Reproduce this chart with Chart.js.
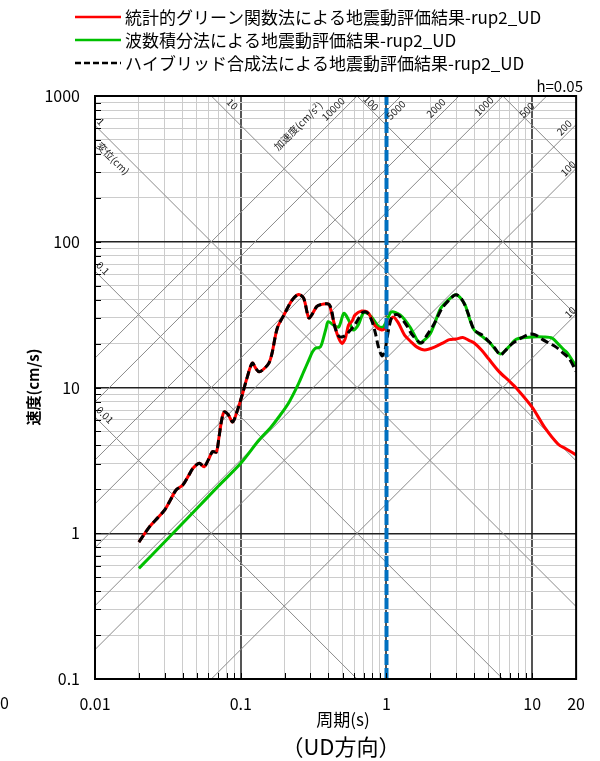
<!DOCTYPE html>
<html>
<head>
<meta charset="utf-8">
<script src="https://cdn.jsdelivr.net/npm/chart.js@4.4.1/dist/chart.umd.min.js"></script>
<style>
html, body { margin: 0; padding: 0; background: #fff; }
canvas { display: block; }
</style>
</head>
<body>
<canvas id="c" width="600" height="761"></canvas>
<script>
// periods (s) and pseudo velocity response (cm/s)
var redT = [0.02, 0.022, 0.0237, 0.027, 0.03, 0.033, 0.036, 0.04, 0.044, 0.047, 0.052, 0.056, 0.06, 0.064, 0.068, 0.071, 0.074, 0.077, 0.082, 0.088,
    0.095, 0.103, 0.11, 0.12, 0.127, 0.134, 0.145, 0.156, 0.164, 0.178, 0.198, 0.225, 0.25, 0.27, 0.293, 0.31, 0.333, 0.36, 0.39, 0.405,
    0.42, 0.457, 0.494, 0.52, 0.549, 0.58, 0.609, 0.676, 0.75, 0.836, 0.927, 0.98, 1.03, 1.11, 1.2, 1.33, 1.48, 1.61, 1.83, 2.15,
    2.5, 2.7, 3.0, 3.34, 3.7, 4.0, 4.5, 5.0, 5.9, 7.0, 7.8, 10, 12.2, 15, 17, 20];
var redSv = [0.87, 1.0, 1.11, 1.28, 1.44, 1.7, 1.98, 2.14, 2.5, 2.79, 3.02, 2.86, 3.2, 3.63, 3.6, 4.6, 6.0, 6.8, 6.5, 5.8,
    7.0, 9.1, 11.5, 14.7, 13.5, 12.8, 13.5, 14.7, 17.2, 25.5, 31.5, 39.8, 43.5, 41, 30, 32, 36, 37.2, 37.5, 37,
    32.3, 23.5, 20.1, 21.5, 26.8, 28.5, 31.5, 33.5, 32.5, 26.5, 24.8, 25.5, 27.5, 30.5, 28, 22.9, 20.5, 19.0, 18.1, 19.0,
    20.5, 21.3, 21.5, 22.0, 21, 20.2, 18, 15.8, 12.9, 11.0, 9.87, 7.3, 5.3, 4.1, 3.8, 3.45];

var greenT = [0.02, 0.03, 0.05, 0.07, 0.1, 0.1335, 0.16, 0.183, 0.214, 0.25, 0.27, 0.293, 0.31, 0.325, 0.352, 0.37, 0.385, 0.398, 0.4335, 0.47,
    0.51, 0.55, 0.59, 0.64, 0.69, 0.73, 0.79, 0.88, 0.95, 1.03, 1.08, 1.24, 1.45, 1.67, 1.75, 2.0, 2.35, 2.6, 3.0, 3.43,
    3.7, 4.0, 4.5, 5.05, 6.05, 6.9, 7.8, 10, 12, 13.7, 15, 16.5, 17.4, 20];
var greenSv = [0.574, 0.87, 1.48, 2.1, 3.02, 4.36, 5.3, 6.3, 7.9, 10.7, 12.8, 15.4, 17.5, 18.6, 19.0, 22, 25.5, 28.3, 26.8, 26.0,
    32.3, 29, 24.8, 26.8, 32.3, 32.5, 30.5, 26.3, 26.0, 30.5, 33, 31.5, 26, 20.2, 20.5, 23.5, 34.8, 39, 43.3, 37.5,
    30, 24.8, 22.5, 20.6, 17, 19.0, 21.5, 22.2, 22.2, 21.8, 20, 18.1, 17.3, 14.0];

var blackT = [0.02, 0.022, 0.0237, 0.027, 0.03, 0.033, 0.036, 0.04, 0.044, 0.047, 0.052, 0.056, 0.06, 0.064, 0.068, 0.071, 0.074, 0.077, 0.082, 0.088,
    0.095, 0.103, 0.11, 0.12, 0.127, 0.134, 0.145, 0.156, 0.164, 0.178, 0.198, 0.225, 0.25, 0.27, 0.293, 0.31, 0.333, 0.36, 0.39, 0.405,
    0.42, 0.44, 0.47, 0.5, 0.53, 0.56, 0.6, 0.64, 0.68, 0.72, 0.76, 0.80, 0.84, 0.88, 0.93, 0.97, 1.0, 1.05, 1.1, 1.2,
    1.37, 1.5, 1.73, 1.9, 2.1, 2.4, 2.7, 3.0, 3.3, 3.6, 4.0, 4.5, 5.05, 5.5, 6.05, 6.5, 7.0, 7.6, 8.5, 9.5,
    10.5, 11.8, 13.0, 14.5, 16, 17.9, 20];
var blackSv = [0.87, 1.0, 1.11, 1.28, 1.44, 1.7, 1.98, 2.14, 2.5, 2.79, 3.02, 2.86, 3.2, 3.63, 3.6, 4.6, 6.0, 6.8, 6.5, 5.8,
    7.0, 9.1, 11.5, 14.7, 13.5, 12.8, 13.5, 14.7, 17.2, 25.5, 31.5, 39.8, 43.5, 41, 30, 32, 36, 37.2, 37.5, 37,
    34, 26.5, 22.5, 22.3, 23, 24.5, 26.5, 29.5, 32.5, 33, 31.5, 28, 23.5, 19, 16.5, 17.5, 20.6, 27, 31, 31.5,
    26.8, 23, 20.2, 23, 26.8, 34.8, 40, 43.3, 40, 33, 24.8, 23, 20.6, 18.8, 16.7, 17.8, 19.3, 20.6, 22, 23.2,
    23, 21.3, 20.2, 19.0, 17.5, 15.8, 12.9];

// tripartite guide lines
var dispValues = [0.01, 0.1, 1, 10, 100, 1000];               // displacement (cm)
var accValues = [10, 100, 200, 500, 1000, 2000, 5000, 10000];  // acceleration (cm/s2)
var markerPeriod = 1;

var xMin = 0.01, xMax = 20, yMin = 0.1, yMax = 1000;
var xTickLabels = [0.01, 0.1, 1, 10, 20];
var yTickLabels = [0.1, 1, 10, 100, 1000];

var legendRows = [
    { text: '統計的グリーン関数法による地震動評価結果-rup2_UD', color: '#ff0000', dash: [] },
    { text: '波数積分法による地震動評価結果-rup2_UD', color: '#00c000', dash: [] },
    { text: 'ハイブリッド合成法による地震動評価結果-rup2_UD', color: '#000000', dash: [6, 3] }
];

var JP = '"Noto Sans CJK JP", "Noto Sans", sans-serif';

function pairs(ts, vs) {
    return ts.map(function (t, i) { return { x: t, y: vs[i] }; });
}
function dispAt(d, T) { return 2 * Math.PI * d / T; }
function accAt(a, T) { return a * T / (2 * Math.PI); }

function logTicks(lo, hi) {
    var out = [];
    for (var e = Math.floor(Math.log10(lo)); e <= Math.ceil(Math.log10(hi)); e++) {
        for (var m = 1; m <= 9; m++) {
            var v = Number((m * Math.pow(10, e)).toPrecision(3));
            if (v >= lo - 1e-12 && v <= hi + 1e-9) out.push(v);
        }
    }
    if (out.indexOf(hi) < 0) out.push(hi);
    return out;
}
function isDecade(v) {
    var l = Math.log10(v);
    return Math.abs(l - Math.round(l)) < 1e-6;
}

var datasets = [];
datasets.push({
    data: [{ x: markerPeriod, y: yMin }, { x: markerPeriod, y: yMax }],
    borderColor: '#0070c0', borderWidth: 4, borderDash: [11, 3], tension: 0, order: 0
});
datasets.push({ data: pairs(blackT, blackSv), borderColor: '#000000', borderWidth: 3, borderDash: [8, 4], tension: 0.3, order: 1 });
datasets.push({ data: pairs(redT, redSv), borderColor: '#ff0000', borderWidth: 3, tension: 0.3, order: 2 });
datasets.push({ data: pairs(greenT, greenSv), borderColor: '#00c000', borderWidth: 3, tension: 0.3, order: 3 });

dispValues.forEach(function (d) {
    datasets.push({
        data: [{ x: xMin, y: dispAt(d, xMin) }, { x: xMax, y: dispAt(d, xMax) }],
        borderColor: '#8a8a8a', borderWidth: 1, tension: 0, order: 10
    });
});
accValues.forEach(function (a) {
    datasets.push({
        data: [{ x: xMin, y: accAt(a, xMin) }, { x: xMax, y: accAt(a, xMax) }],
        borderColor: '#8a8a8a', borderWidth: 1, tension: 0, order: 10
    });
});

// labels on the guide lines: kind, value, edge it meets, offset, text
var diagLabels = [
    ['d', 1, 'left', 6, -4, '1'],
    ['d', 0.1, 'left', 8, -3, '0.1'],
    ['d', 0.01, 'left', 10, -2, '0.01'],
    ['d', 10, 'top', 21, 8, '10'],
    ['d', 100, 'top', 14, 7, '100'],
    ['d', 1, 'left', 18, 33, '変位(cm)'],
    ['a', 10000, 'top', -59, 30, '加速度(cm/s²)'],
    ['a', 10000, 'top', -24, 13, '10000'],
    ['a', 5000, 'top', -5, 14, '5000'],
    ['a', 2000, 'top', -23, 12, '2000'],
    ['a', 1000, 'top', -19, 10, '1000'],
    ['a', 500, 'top', -20, 14, '500'],
    ['a', 200, 'right', -12, 3, '200'],
    ['a', 100, 'right', -8, 0, '100'],
    ['a', 10, 'right', -6, -2, '10']
];

var overlay = {
    id: 'overlay',
    afterDraw: function (chart) {
        var ctx = chart.ctx, a = chart.chartArea;
        var xs = chart.scales.x, ys = chart.scales.y;
        ctx.save();

        // inner ticks
        ctx.strokeStyle = '#000';
        ctx.lineWidth = 1;
        ys.ticks.forEach(function (t) {
            var y = Math.round(ys.getPixelForValue(t.value)) + 0.5;
            ctx.beginPath(); ctx.moveTo(a.left, y); ctx.lineTo(a.left + 6, y); ctx.stroke();
        });
        xs.ticks.forEach(function (t) {
            var x = Math.round(xs.getPixelForValue(t.value)) + 0.5;
            ctx.beginPath(); ctx.moveTo(x, a.bottom); ctx.lineTo(x, a.bottom - 6); ctx.stroke();
        });

        // frame
        ctx.lineWidth = 2;
        ctx.strokeStyle = '#000';
        ctx.strokeRect(a.left, a.top, a.right - a.left, a.bottom - a.top);

        // guide line labels
        ctx.fillStyle = '#222';
        ctx.font = '10px ' + JP;
        ctx.textAlign = 'center';
        ctx.textBaseline = 'middle';
        diagLabels.forEach(function (L) {
            var T, S;
            if (L[0] === 'd') {
                if (L[2] === 'left') { T = xMin; S = dispAt(L[1], xMin); }
                else { S = yMax; T = 2 * Math.PI * L[1] / yMax; }
            } else {
                if (L[2] === 'right') { T = xMax; S = accAt(L[1], xMax); }
                else { S = yMax; T = 2 * Math.PI * yMax / L[1]; }
            }
            var px = xs.getPixelForValue(T) + L[3];
            var py = ys.getPixelForValue(S) + L[4];
            ctx.save();
            ctx.translate(px, py);
            ctx.rotate(L[0] === 'd' ? Math.PI / 4 : -Math.PI / 4);
            ctx.fillText(L[5], 0, 0);
            ctx.restore();
        });

        // legend
        ctx.textAlign = 'left';
        ctx.font = '17px ' + JP;
        legendRows.forEach(function (r, i) {
            var y = 17 + i * 23;
            ctx.strokeStyle = r.color;
            ctx.lineWidth = 2.5;
            ctx.setLineDash(r.dash);
            ctx.beginPath(); ctx.moveTo(75, y); ctx.lineTo(121, y); ctx.stroke();
            ctx.setLineDash([]);
            ctx.fillStyle = '#000';
            ctx.fillText(r.text, 125, y + 1);
        });

        ctx.font = '15px ' + JP;
        ctx.textAlign = 'right';
        ctx.fillText('h=0.05', 583, 86);

        // axis titles
        ctx.textAlign = 'center';
        ctx.font = '17px ' + JP;
        ctx.fillText('周期(s)', 343, 720);
        ctx.font = '22px ' + JP;
        ctx.fillText('（UD方向）', 341, 747);
        ctx.font = '16px ' + JP;
        ctx.textAlign = 'right';
        ctx.fillText('20', 9, 703);

        ctx.save();
        ctx.translate(33, 387);
        ctx.rotate(-Math.PI / 2);
        ctx.textAlign = 'center';
        ctx.font = 'bold 15px ' + JP;
        ctx.fillText('速度(cm/s)', 0, 0);
        ctx.restore();

        ctx.restore();
    }
};

var chart = new Chart(document.getElementById('c').getContext('2d'), {
    type: 'line',
    data: { datasets: datasets },
    options: {
        responsive: false,
        animation: false,
        layout: { padding: { left: 0, right: 21, top: 96, bottom: 0 } },
        elements: { point: { radius: 0 } },
        plugins: { legend: { display: false }, tooltip: { enabled: false } },
        scales: {
            x: {
                type: 'logarithmic', min: xMin, max: xMax,
                afterBuildTicks: function (s) { s.ticks = logTicks(xMin, xMax).map(function (v) { return { value: v }; }); },
                afterFit: function (s) { s.height = 82; },
                border: { color: '#000', width: 2 },
                grid: {
                    drawTicks: false,
                    color: function (c) { return isDecade(c.tick.value) ? '#555555' : '#cccccc'; },
                    lineWidth: function (c) { return isDecade(c.tick.value) ? 2 : 1; }
                },
                ticks: {
                    autoSkip: false, maxRotation: 0, padding: 15, color: '#000',
                    font: { family: JP, size: 16 },
                    callback: function (v) { return xTickLabels.indexOf(v) >= 0 ? String(v) : ''; }
                }
            },
            y: {
                type: 'logarithmic', min: yMin, max: yMax,
                afterBuildTicks: function (s) { s.ticks = logTicks(yMin, yMax).map(function (v) { return { value: v }; }); },
                afterFit: function (s) { s.width = 95; },
                border: { color: '#000', width: 2 },
                grid: {
                    drawTicks: false,
                    color: function (c) { return isDecade(c.tick.value) ? '#222222' : '#cccccc'; },
                    lineWidth: function (c) { return isDecade(c.tick.value) ? 1.5 : 1; }
                },
                ticks: {
                    autoSkip: false, padding: 15, color: '#000',
                    font: { family: JP, size: 16 },
                    callback: function (v) { return yTickLabels.indexOf(v) >= 0 ? String(v) : ''; }
                }
            }
        }
    },
    plugins: [overlay]
});
</script>
</body>
</html>
